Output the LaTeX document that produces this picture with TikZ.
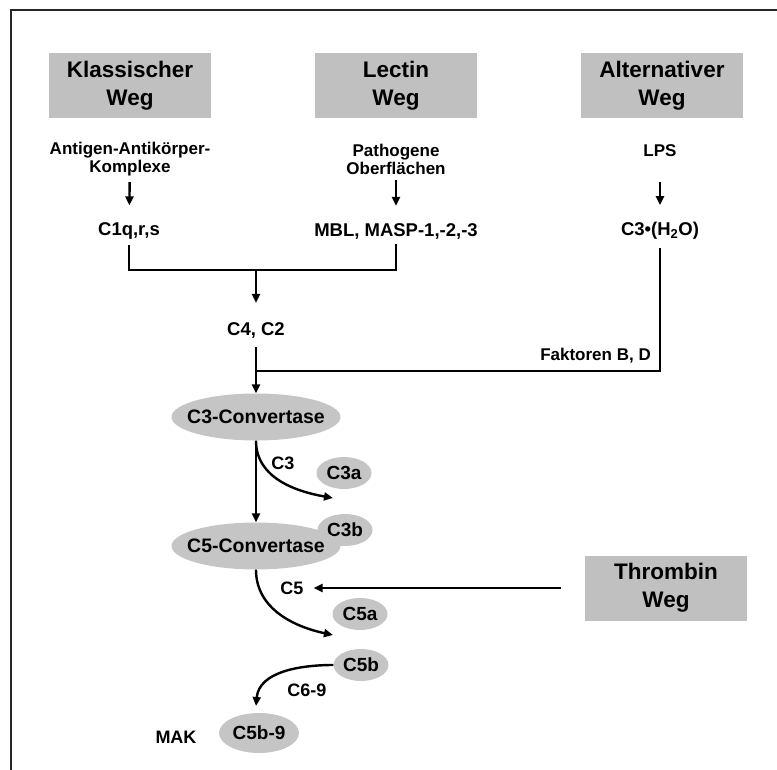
\documentclass[tikz,border=0pt]{standalone}
\usepackage{fontspec}
\setmainfont{Liberation Sans}
\usetikzlibrary{arrows.meta,shapes.geometric}
\definecolor{weggrau}{RGB}{192,192,192}
\definecolor{ovalgrau}{RGB}{197,197,197}
\tikzset{
  weg/.style={fill=weggrau, minimum width=162pt, minimum height=65pt, inner sep=0pt, align=center, font=\fontsize{22.5}{28}\selectfont\bfseries},
  quelle/.style={align=center, inner sep=2pt, font=\fontsize{17}{18}\selectfont\bfseries},
  stoff/.style={inner sep=2pt, font=\fontsize{18.5}{20}\selectfont\bfseries},
  konv/.style={ellipse, fill=ovalgrau, minimum width=169pt, minimum height=47pt, inner sep=0pt, font=\fontsize{19.5}{20}\selectfont\bfseries},
  frag/.style={ellipse, fill=ovalgrau, minimum width=55pt, minimum height=32pt, inner sep=0pt, font=\fontsize{19}{20}\selectfont\bfseries},
  klein/.style={inner sep=2pt, font=\fontsize{18}{20}\selectfont\bfseries},
  linie/.style={line width=2.4pt},
  pfeil/.style={line width=2.4pt, -{Triangle[length=9pt,width=8pt]}},
  pfeilkurz/.style={pfeil, shorten >=15pt}
}

\begin{document}
\begin{tikzpicture}[x=1pt, y=-1pt]
    \useasboundingbox (0,0) rectangle (777,770);
    \draw[line width=2.2pt, black!85] (11,770) -- (11,10) -- (777,10);

    \node[weg] (klassisch) at (130,86) {Klassischer\\Weg};
    \node[weg] (lektin) at (396,86) {Lectin\\Weg};
    \node[weg] (alternativ) at (662,86) {Alternativer\\Weg};

    \node[quelle] (antigen) at (130,159) {Antigen-Antikörper-\\Komplexe};
    \node[quelle] (pathogen) at (396,159) {Pathogene\\Oberflächen};
    \node[quelle] (lps) at (660,151) {LPS};

    \node[stoff] (c1q) at (129,231) {C1q,r,s};
    \node[stoff] (mbl) at (396,231) {MBL, MASP-1,-2,-3};
    \node[stoff] (c3h2o) at (660,231) {C3•(H\textsubscript{2}O)};

    \draw[pfeilkurz, shorten <=4pt] (antigen) -- (c1q);
    \draw[pfeilkurz, shorten <=4pt] (pathogen) -- (mbl);
    \draw[pfeilkurz, shorten <=23pt] (lps) -- (c3h2o);

    \coordinate (klammer) at (256,270);
    \draw[linie, shorten <=3pt, shorten >=3pt] (c1q) |- (klammer) -| (mbl);

    \node[stoff] (c4) at (256,330) {C4, C2};
    \draw[pfeil, shorten >=17pt] (klammer) -- (c4);

    \node[konv] (c3conv) at (256,417) {\makebox[0pt]{C3-Convertase}};
    \draw[pfeil, shorten <=7pt] (c4) -- (c3conv);

    \coordinate (verzweig) at (256,371);
    \draw[linie, shorten <=6pt] (c3h2o) |- (verzweig);
    \node[klein, font=\fontsize{17}{20}\selectfont\bfseries, anchor=base east] (faktoren) at (653,360) {Faktoren B, D};

    \node[frag] (c3b) at (345,530) {\makebox[0pt]{C3b}};
    \node[konv] (c5conv) at (256,546) {\makebox[0pt]{C5-Convertase}};
    \draw[pfeil] (c3conv) -- (c5conv);

    \coordinate (c3spalt) at (333,498);
    \draw[pfeil] (c3conv.south) to[out=-90, in=170] (c3spalt);
    \node[klein] (c3lab) at (283,463) {C3};
    \node[frag] (c3a) at (344,473) {\makebox[0pt]{C3a}};

    \coordinate (c5spalt) at (333,635);
    \draw[pfeil] (c5conv.south) to[out=-90, in=168] (c5spalt);
    \node[klein] (c5lab) at (292,588) {C5};
    \node[frag] (c5a) at (360,614) {\makebox[0pt]{C5a}};

    \node[weg] (thrombin) at (666,588) {Thrombin\\Weg};
    \draw[pfeil, shorten <=24pt, shorten >=8pt] (thrombin) -- (c5lab);

    \node[frag] (c5b) at (361,665) {\makebox[0pt]{C5b}};
    \coordinate (c69ende) at (256,706);
    \draw[pfeil] (c5b) to[out=180, in=85] (c69ende);
    \node[klein] (c69lab) at (307,690) {C6-9};

    \node[frag, minimum width=80pt, minimum height=40pt] (c5b9) at (259,733) {\makebox[0pt]{C5b-9}};
    \node[klein] (mak) at (176,737) {MAK};
\end{tikzpicture}
\end{document}
